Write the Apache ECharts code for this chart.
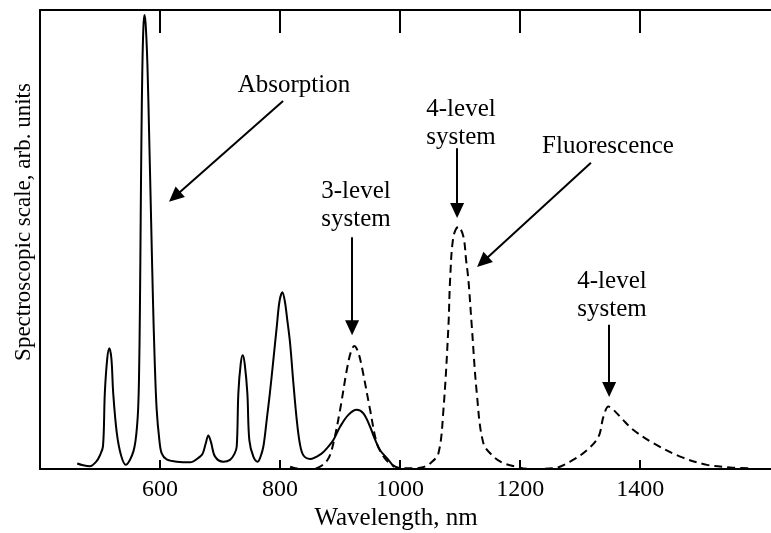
<!DOCTYPE html>
<html>
<head>
<meta charset="utf-8">
<script src="https://cdn.jsdelivr.net/npm/echarts@6/dist/echarts.min.js"></script>
<style>html,body{margin:0;padding:0;background:#fff}#c{width:771px;height:533px}</style>
</head>
<body>
<div id="c"></div>
<script>
// Wavelength ticks (nm)
const tickValues = [600, 800, 1000, 1200, 1400];

// Absorption spectrum (solid): [wavelength nm, arb. units]
const absorption = [
  [462,1.2],[472,0.8],[483,0.6],[493,1.5],[500,3.0],[505,5.0],[508,16.5],[512,24],[515.5,26.3],
  [519,24],[522,16.5],[528,7.8],[535,3.0],[543,0.9],[550,2.0],[556,4.0],[559,6],[561.5,9],
  [563.5,13],[565,20],[566.5,35],[567.8,55],[569,72],[570.5,87],[572.2,96],[573.9,98.9],
  [576,97],[579,88],[582,72],[585,55],[588,38],[591,24],[594.4,13],[598.9,6.3],[602.8,3.4],
  [611,2.1],[628,1.6],[650,1.45],[666.7,2.7],[671.2,3.4],[676,5.5],[680.5,7.3],[685,5.8],
  [691.7,2.7],[705.5,1.6],[716.7,2.0],[724,3.3],[727.8,4.9],[730.5,16.5],[734.5,23],[737.8,24.8],
  [741,23],[745.5,16.5],[748.8,6.3],[755.5,2.7],[762.8,1.6],[767,2.5],[772.2,4.9],[778,11],
  [783,16.5],[788.8,23.7],[794.5,31],[799,36.5],[803.8,38.5],[808,36.5],[812,32.5],[816.7,27.4],
  [822,19],[827.8,10.7],[833,5.5],[838.8,3.0],[850,2.2],[869.5,3.4],[880,4.8],[888.8,6.3],
  [900,9.2],[913.8,11.8],[927.8,12.9],[938.8,12.1],[950,9.2],[958,6.5],[966.7,4.1],[980.5,2.0],[990,0.4]
];

// Fluorescence spectrum (dashed): [wavelength nm, arb. units]
const fluorescence = [
  [816.7,0.5],[833.3,0],[850,0],[866.7,0.5],[880.5,2.3],[888.8,5.6],[900,12.9],[911.2,21.6],
  [918,25.5],[923.8,26.8],[930,25.5],[936.2,22.3],[950,12.9],[961.2,5.6],[972,2.8],[983.3,1.2],
  [1000,0.2],[1022,0.15],[1038,0.4],[1050,1.2],[1063.8,3.4],[1072.2,12.9],[1080.5,31],[1083.3,41.2],
  [1088.8,50.6],[1097.2,52.8],[1105.5,50.6],[1110,45.5],[1113.8,41.2],[1119.5,31],[1127.8,16.5],
  [1138.8,5.6],[1155.5,2.7],[1170,1.4],[1188.8,0.65],[1216.7,0],[1255.5,0.15],[1283.3,1.6],
  [1311.2,4.1],[1330.5,7.0],[1338.8,11.4],[1347.2,13.6],[1355.5,12.9],[1370,10.9],[1388.8,8.5],
  [1422.2,5.6],[1466.7,2.7],[1511.2,0.9],[1550,0.35],[1583.3,0.15]
];

// Annotation arrows in data coordinates: [fromX, fromY, toX, toY]
const arrows = [
  [805, 80.2, 624.3, 59.3],
  [920, 50.5, 920, 30.8],
  [1095, 69.9, 1095, 56.3],
  [1318, 66.7, 1137.5, 45.1],
  [1348.3, 31.4, 1348.3, 17.3]
];

// Annotation texts: [text, centerX px, centerY px]
const notes = [
  ['Absorption', 294, 85],
  ['3-level', 356, 191],
  ['system', 356, 219],
  ['4-level', 461, 109],
  ['system', 461, 137],
  ['Fluorescence', 608, 146],
  ['4-level', 612, 281],
  ['system', 612, 309]
];

const FONT = "'Liberation Serif', 'Times New Roman', serif";
const chart = echarts.init(document.getElementById('c'), null, {renderer: 'canvas'});

const graphics = notes.map(n => ({
  type: 'text', x: n[1], y: n[2],
  style: {text: n[0], fill: '#000', font: "25px " + FONT, align: 'center', verticalAlign: 'middle'}
}));
graphics.push({
  type: 'text', x: 396, y: 518,
  style: {text: 'Wavelength, nm', fill: '#000', font: "25px " + FONT, align: 'center', verticalAlign: 'middle'}
});
graphics.push({
  type: 'text', x: 24, y: 222, rotation: Math.PI / 2,
  style: {text: 'Spectroscopic scale, arb. units', fill: '#000', font: "23px " + FONT, align: 'center', verticalAlign: 'middle'}
});

chart.setOption({
  animation: false,
  backgroundColor: '#fff',
  grid: {left: 40, right: 0, top: 10, bottom: 64},
  xAxis: [{
    type: 'value', min: 400, max: 1618, position: 'bottom',
    axisLine: {show: true, onZero: false, lineStyle: {color: '#000', width: 2}},
    axisTick: {show: true, inside: true, length: 9, customValues: tickValues, lineStyle: {color: '#000', width: 2}},
    axisLabel: {show: true, customValues: tickValues, color: '#000', fontSize: 24, fontFamily: FONT, margin: 9,
      formatter: v => String(v)},
    splitLine: {show: false}
  }, {
    type: 'value', min: 400, max: 1618, position: 'top',
    axisLine: {show: true, onZero: false, lineStyle: {color: '#000', width: 2}},
    axisTick: {show: true, inside: true, length: 23, customValues: tickValues, lineStyle: {color: '#000', width: 2}},
    axisLabel: {show: false},
    splitLine: {show: false}
  }],
  yAxis: {
    type: 'value', min: 0, max: 100,
    axisLine: {show: true, onZero: false, lineStyle: {color: '#000', width: 2}},
    axisTick: {show: false}, axisLabel: {show: false}, splitLine: {show: false}
  },
  series: [{
    type: 'line', name: 'Absorption', data: absorption, showSymbol: false,
    smooth: 0.35,
    lineStyle: {color: '#000', width: 2},
    markLine: {
      silent: true, symbol: ['none', 'triangle'], symbolSize: [14, 15],
      label: {show: false},
      lineStyle: {color: '#000', width: 2, type: 'solid'},
      data: arrows.map(a => [{coord: [a[0], a[1]]}, {coord: [a[2], a[3]]}])
    }
  }, {
    type: 'line', name: 'Fluorescence', data: fluorescence, showSymbol: false,
    smooth: 0.35,
    lineStyle: {color: '#000', width: 2, type: [8, 5]}
  }],
  graphic: graphics
});
</script>
</body>
</html>
